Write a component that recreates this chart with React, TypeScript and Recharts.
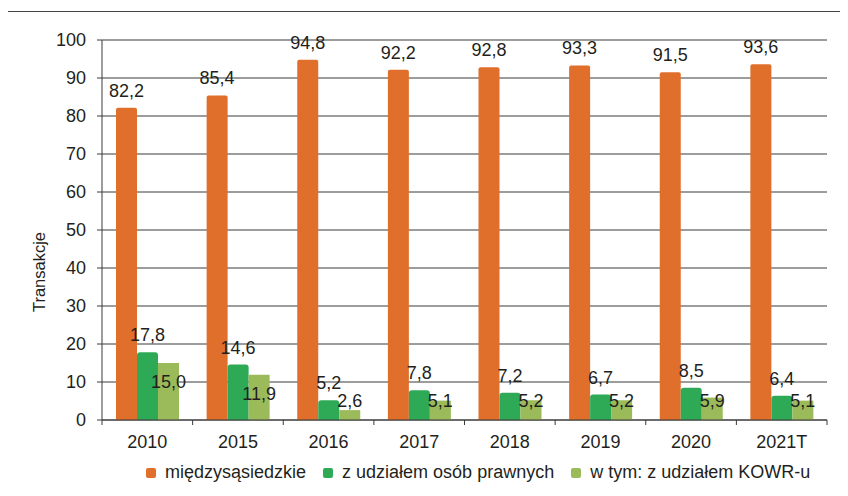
import React from "react";
import { BarChart, Bar, XAxis, YAxis, CartesianGrid, LabelList, Label } from "recharts";

const years = ["2010", "2015", "2016", "2017", "2018", "2019", "2020", "2021T"];
const neighbour = [82.2, 85.4, 94.8, 92.2, 92.8, 93.3, 91.5, 93.6];
const legalPersons = [17.8, 14.6, 5.2, 7.8, 7.2, 6.7, 8.5, 6.4];
const kowr = [15.0, 11.9, 2.6, 5.1, 5.2, 5.2, 5.9, 5.1];
const yTicks = [0, 10, 20, 30, 40, 50, 60, 70, 80, 90, 100];

const seriesNames = ["międzysąsiedzkie", "z udziałem osób prawnych", "w tym: z udziałem KOWR-u"];
const colors = ["#DF6F2B", "#2EAA57", "#9BBB5B"];

const data = years.map((year, i) => ({
  year,
  neighbour: neighbour[i],
  legal: legalPersons[i],
  kowr: kowr[i],
}));

const W = 840;
const H = 480;
const margin = { top: 32, right: 21, left: 34, bottom: 38 };
const yAxisWidth = 60;
const band = (W - margin.left - margin.right - yAxisWidth) / years.length;
const font = "'Liberation Sans', Arial, sans-serif";
const fs = 18;
const ink = "#231f20";
const lineColor = "#3a3a3a";

const fmt = (v: any) => Number(v).toFixed(1).replace(".", ",");

function YearTick(props: any) {
  const { x, y, payload, index } = props;
  const axisY = y - 15;
  return (
    <g>
      <line x1={x - band / 2} x2={x - band / 2} y1={axisY} y2={axisY + 5} stroke={lineColor} />
      {index === years.length - 1 && (
        <line x1={x + band / 2} x2={x + band / 2} y1={axisY} y2={axisY + 5} stroke={lineColor} />
      )}
      <text x={x} y={y} dy="0.71em" textAnchor="middle" fill={ink} fontSize={fs} fontFamily={font}>
        {payload.value}
      </text>
    </g>
  );
}

// KOWR labels sit just inside the bar top, but never lower than ~19px above the base
function KowrLabel(props: any) {
  const { x, y, width, height, value } = props;
  const cy = Math.min(y + 18.5, y + height - 19);
  return (
    <text x={x + width / 2} y={cy} dy="0.36em" textAnchor="middle" fill={ink} fontSize={fs} fontFamily={font}>
      {fmt(value)}
    </text>
  );
}

function YLabel(props: any) {
  const { viewBox } = props;
  const cx = viewBox.x - 3;
  const cy = viewBox.y + viewBox.height / 2 + 42;
  return (
    <text
      x={cx}
      y={cy}
      transform={`rotate(-90 ${cx} ${cy})`}
      textAnchor="middle"
      dy="0.36em"
      fill={ink}
      fontSize={16.5}
      fontFamily={font}
    >
      Transakcje
    </text>
  );
}

function ChartLegend() {
  return (
    <div
      style={{
        position: "absolute",
        left: 138,
        top: 454,
        display: "flex",
        alignItems: "center",
        fontFamily: font,
        fontSize: fs,
        color: ink,
        whiteSpace: "nowrap",
      }}
    >
      {seriesNames.map((name, i) => (
        <div key={name} style={{ display: "flex", alignItems: "center", marginRight: 17 }}>
          <span
            style={{
              display: "inline-block",
              width: 10,
              height: 10,
              background: colors[i],
              borderRadius: 2,
              marginRight: 9,
            }}
          />
          <span>{name}</span>
        </div>
      ))}
    </div>
  );
}

export default function App() {
  return (
    <div style={{ position: "relative", width: W, height: H, overflow: "hidden", background: "#fff" }}>
      <div
        style={{
          position: "absolute",
          left: -1,
          top: 3,
          width: W + 40,
          height: H + 40,
          borderLeft: "1.5px solid #444",
          borderTop: "1.5px solid #444",
          boxSizing: "border-box",
        }}
      />
      <div style={{ position: "absolute", left: 0, top: 0 }}>
        <BarChart width={W} height={H} data={data} margin={margin} barSize={21} barGap={0}>
          <CartesianGrid vertical={false} stroke={lineColor} strokeOpacity={1} />
          <XAxis
            dataKey="year"
            height={30}
            axisLine={{ stroke: lineColor }}
            tickLine={false}
            tickSize={5}
            tickMargin={10}
            tick={<YearTick />}
            interval={0}
          />
          <YAxis
            width={yAxisWidth}
            domain={[0, 100]}
            ticks={yTicks}
            interval={0}
            axisLine={{ stroke: lineColor }}
            tickLine={{ stroke: lineColor }}
            tickSize={5}
            tickMargin={11}
            tick={{ fill: ink, fontSize: fs, fontFamily: font }}
          >
            <Label content={<YLabel />} />
          </YAxis>
          <Bar dataKey="neighbour" fill={colors[0]} radius={[2, 2, 0, 0]} isAnimationActive={false}>
            <LabelList
              dataKey="neighbour"
              position="top"
              offset={11}
              formatter={fmt}
              fill={ink}
              fontSize={fs}
              fontFamily={font}
            />
          </Bar>
          <Bar dataKey="legal" fill={colors[1]} radius={[3, 3, 0, 0]} isAnimationActive={false}>
            <LabelList
              dataKey="legal"
              position="top"
              offset={11}
              formatter={fmt}
              fill={ink}
              fontSize={fs}
              fontFamily={font}
            />
          </Bar>
          <Bar dataKey="kowr" fill={colors[2]} isAnimationActive={false}>
            <LabelList dataKey="kowr" content={<KowrLabel />} />
          </Bar>
        </BarChart>
      </div>
      <ChartLegend />
    </div>
  );
}
